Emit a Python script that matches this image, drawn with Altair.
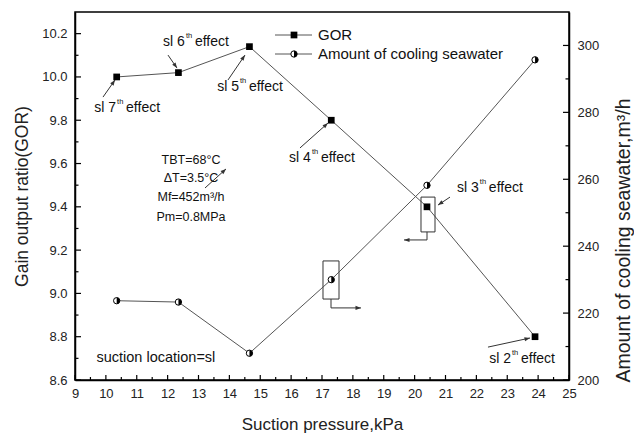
import math
import altair as alt
import pandas as pd

# ---------------- data ----------------
pressure = [10.35, 12.35, 14.65, 17.3, 20.4, 23.9]
gor = [10.00, 10.02, 10.14, 9.80, 9.40, 8.80]
seawater = [223.7, 223.3, 208.0, 230.0, 258.2, 295.7]

x_ticks = list(range(9, 26))
x_minor = [9.5 + i for i in range(16)]
yl_ticks = [8.6, 8.8, 9.0, 9.2, 9.4, 9.6, 9.8, 10.0, 10.2]
yl_minor = [8.7, 8.9, 9.1, 9.3, 9.5, 9.7, 9.9, 10.1]
yr_ticks = [200, 220, 240, 260, 280, 300]
yr_minor = [210, 230, 250, 270, 290]

effect_num = ["7", "6", "5", "4", "3", "2"]
effect_x = [10.33, 12.56, 14.31, 16.64, 22.08, 23.12]
effect_y = [9.857, 10.161, 9.954, 9.626, 9.487, 8.697]

arrow_x1 = [9.907, 12.012, 13.955, 16.287, 21.146, 22.376, 13.211, 20.401, 17.292]
arrow_y1 = [9.907, 10.101, 9.986, 9.672, 9.445, 8.752, 9.487, 9.247, 8.933]
arrow_x2 = [10.296, 12.304, 14.506, 17.194, 20.757, 23.737, 13.891, 19.656, 18.263]
arrow_y2 = [9.986, 10.041, 10.101, 9.787, 9.408, 8.794, 9.575, 9.247, 8.933]

seg_x1 = [20.401, 17.292]
seg_y1 = [9.284, 8.974]
seg_x2 = [20.401, 17.292]
seg_y2 = [9.247, 8.933]

box_x1 = [20.206, 17.032]
box_x2 = [20.660, 17.551]
box_y1 = [9.445, 9.150]
box_y2 = [9.284, 8.974]

param_lines = ["TBT=68°C", "ΔT=3.5°C", "Mf=452m³/h", "Pm=0.8MPa"]
param_x = [12.757, 12.757, 12.757, 12.757]
param_y = [9.616, 9.533, 9.445, 9.353]

note_text = ["suction location=sl"]
note_x = [11.62]
note_y = [8.702]

# ---------------- layout ----------------
W, H = 494, 368
XD = [9, 25]
YLD = [8.6, 10.3]
YRD = [200, 310]
FONT = "Liberation Sans"
LINE = "#555555"
ARW = "#333333"

xs = alt.Scale(domain=XD, nice=False, zero=False)
yl = alt.Scale(domain=YLD, nice=False, zero=False)
yr = alt.Scale(domain=YRD, nice=False, zero=False)

sx = W / (XD[1] - XD[0])
sy = H / (YLD[1] - YLD[0])
angles = []
for a, b, c, d in zip(arrow_x1, arrow_y1, arrow_x2, arrow_y2):
    dx = (c - a) * sx
    dy = -(d - b) * sy
    angles.append(math.degrees(math.atan2(dx, -dy)) % 360)

df = pd.DataFrame({"p": pressure, "gor": gor, "sw": seawater})
eff = pd.DataFrame({"x": effect_x, "y": effect_y, "n": effect_num})
eff["pre"] = "sl " + eff["n"]
arr = pd.DataFrame({"x1": arrow_x1, "y1": arrow_y1, "x2": arrow_x2, "y2": arrow_y2, "ang": angles})
seg = pd.DataFrame({"x1": seg_x1, "y1": seg_y1, "x2": seg_x2, "y2": seg_y2})
box = pd.DataFrame({"x1": box_x1, "x2": box_x2, "y1": box_y1, "y2": box_y2})
par = pd.DataFrame({"x": param_x, "y": param_y, "t": param_lines})
note = pd.DataFrame({"x": note_x, "y": note_y, "t": note_text})
one = pd.DataFrame({"a": [0]})

x_axis = alt.Axis(values=x_ticks, format="d", ticks=False, grid=False, domainColor="black",
                  domainWidth=1.5, labelFontSize=13, labelPadding=7, labelColor="#222",
                  labelFlush=False, title="Suction pressure,kPa", titleFontSize=17,
                  titleFontWeight="normal", titlePadding=16, titleColor="#222")
yl_axis = alt.Axis(values=yl_ticks, format=".1f", ticks=False, grid=False, domainColor="black",
                   domainWidth=1.5, labelFontSize=13, labelPadding=8, labelColor="#222",
                   title="Gain output ratio(GOR)", titleFontSize=17.5, titleFontWeight="normal",
                   titlePadding=10, titleColor="#222")
yr_axis = alt.Axis(values=yr_ticks, format="d", ticks=False, grid=False, orient="right",
                   domainColor="black", domainWidth=1.5, labelFontSize=13, labelPadding=8,
                   labelColor="#222", title="Amount of cooling seawater,m³/h", titleFontSize=19.5,
                   titleFontWeight="normal", titleColor="#222", titleAngle=270,
                   titleX=54, titleY=228, titleAlign="center", titleBaseline="middle")

def X(f):
    return alt.X(f, scale=xs, axis=x_axis)

def YL(f):
    return alt.Y(f, scale=yl, axis=yl_axis)

def YR(f):
    return alt.Y(f, scale=yr, axis=yr_axis)

ARROW_SHAPE = "M0,0 L-0.75,2 L0.75,2 Z"
HALF_SHAPE = "M0,-1 A1,1 0 0,1 0,1 Z"

# ---------- left (GOR) layer ----------
gor_line = alt.Chart(df).mark_line(color=LINE, strokeWidth=1).encode(
    x=X("p:Q"), y=YL("gor:Q"))
gor_pts = alt.Chart(df).mark_point(shape="square", filled=True, color="black", size=45, opacity=1).encode(
    x=X("p:Q"), y=YL("gor:Q"))

xt_major = alt.Chart(pd.DataFrame({"v": x_ticks})).mark_rule(color="black", strokeWidth=1.2).encode(
    x=X("v:Q"), y=alt.value(H), y2=alt.value(H - 5))
xt_minor = alt.Chart(pd.DataFrame({"v": x_minor})).mark_rule(color="black", strokeWidth=1.2).encode(
    x=X("v:Q"), y=alt.value(H), y2=alt.value(H - 3))
ylt_major = alt.Chart(pd.DataFrame({"v": yl_ticks})).mark_rule(color="black", strokeWidth=1.2).encode(
    y=YL("v:Q"), x=alt.value(0), x2=alt.value(6))
ylt_minor = alt.Chart(pd.DataFrame({"v": yl_minor})).mark_rule(color="black", strokeWidth=1.2).encode(
    y=YL("v:Q"), x=alt.value(0), x2=alt.value(3.5))

boxes = alt.Chart(box).mark_rect(fillOpacity=0, stroke=ARW, strokeWidth=1).encode(
    x=X("x1:Q"), x2="x2:Q", y=YL("y1:Q"), y2="y2:Q")
segs = alt.Chart(seg).mark_rule(color=ARW, strokeWidth=1).encode(
    x=X("x1:Q"), x2="x2:Q", y=YL("y1:Q"), y2="y2:Q")
arr_lines = alt.Chart(arr).mark_rule(color=ARW, strokeWidth=1).encode(
    x=X("x1:Q"), x2="x2:Q", y=YL("y1:Q"), y2="y2:Q")
arr_heads = alt.Chart(arr).mark_point(shape=ARROW_SHAPE, filled=True, color=ARW, size=30, opacity=1,
                                      strokeWidth=0).encode(
    x=X("x2:Q"), y=YL("y2:Q"), angle=alt.Angle("ang:Q", scale=None))

eff_pre = alt.Chart(eff).mark_text(align="right", baseline="middle", fontSize=14, color="#111").encode(
    x=X("x:Q"), y=YL("y:Q"), text="pre:N")
eff_sup = alt.Chart(eff).mark_text(align="left", baseline="middle", fontSize=7.5, dx=1, dy=-6,
                                   color="#111").encode(
    x=X("x:Q"), y=YL("y:Q"), text=alt.value("th"))
eff_post = alt.Chart(eff).mark_text(align="left", baseline="middle", fontSize=14, dx=10,
                                    color="#111").encode(
    x=X("x:Q"), y=YL("y:Q"), text=alt.value("effect"))

params = alt.Chart(par).mark_text(align="center", baseline="middle", fontSize=12.5, color="#111").encode(
    x=X("x:Q"), y=YL("y:Q"), text="t:N")
notes = alt.Chart(note).mark_text(align="center", baseline="middle", fontSize=14.5, color="#111").encode(
    x=X("x:Q"), y=YL("y:Q"), text="t:N")

# legend (placed in the panel's own pixel frame)
leg1_line = alt.Chart(one).mark_rule(color=LINE, strokeWidth=1).encode(
    x=alt.value(200), x2=alt.value(237), y=alt.value(23))
leg1_pt = alt.Chart(one).mark_point(shape="square", filled=True, color="black", size=45, opacity=1).encode(
    x=alt.value(219), y=alt.value(23))
leg1_txt = alt.Chart(one).mark_text(align="left", baseline="middle", fontSize=15, color="#111").encode(
    x=alt.value(243), y=alt.value(23), text=alt.value("GOR"))
leg2_line = alt.Chart(one).mark_rule(color=LINE, strokeWidth=1).encode(
    x=alt.value(200), x2=alt.value(237), y=alt.value(42))
leg2_pt = alt.Chart(one).mark_point(shape="circle", filled=True, fill="white", stroke="black",
                                    strokeWidth=1, size=40, opacity=1).encode(
    x=alt.value(219), y=alt.value(42))
leg2_half = alt.Chart(one).mark_point(shape=HALF_SHAPE, filled=True, color="black", size=40,
                                      opacity=1).encode(
    x=alt.value(219), y=alt.value(42))
leg2_txt = alt.Chart(one).mark_text(align="left", baseline="middle", fontSize=15, color="#111").encode(
    x=alt.value(243), y=alt.value(42), text=alt.value("Amount of cooling seawater"))

left = alt.layer(gor_line, boxes, segs, arr_lines, arr_heads, gor_pts,
                 xt_major, xt_minor, ylt_major, ylt_minor,
                 eff_pre, eff_sup, eff_post, params, notes,
                 leg1_line, leg1_pt, leg1_txt, leg2_line, leg2_pt, leg2_half, leg2_txt)

# ---------- right (seawater) layer ----------
sw_line = alt.Chart(df).mark_line(color=LINE, strokeWidth=1).encode(
    x=X("p:Q"), y=YR("sw:Q"))
sw_circ = alt.Chart(df).mark_point(shape="circle", filled=True, fill="white", stroke="black",
                                   strokeWidth=1, size=40, opacity=1).encode(
    x=X("p:Q"), y=YR("sw:Q"))
sw_half = alt.Chart(df).mark_point(shape=HALF_SHAPE, filled=True, color="black", size=40,
                                   opacity=1).encode(
    x=X("p:Q"), y=YR("sw:Q"))
yrt_major = alt.Chart(pd.DataFrame({"v": yr_ticks})).mark_rule(color="black", strokeWidth=1.2).encode(
    y=YR("v:Q"), x=alt.value(W), x2=alt.value(W - 6))
yrt_minor = alt.Chart(pd.DataFrame({"v": yr_minor})).mark_rule(color="black", strokeWidth=1.2).encode(
    y=YR("v:Q"), x=alt.value(W), x2=alt.value(W - 3.5))

right = alt.layer(sw_line, sw_circ, sw_half, yrt_major, yrt_minor)

chart = alt.layer(left, right).resolve_scale(y="independent").properties(
    width=W, height=H,
    autosize=alt.AutoSizeParams(type="none"),
    padding={"left": 75, "top": 12, "right": 65, "bottom": 56},
    background="white",
).configure(font=FONT).configure_view(stroke="black", strokeWidth=1.5)

chart.save("out.html", embed_options={"renderer": "svg", "actions": False})
